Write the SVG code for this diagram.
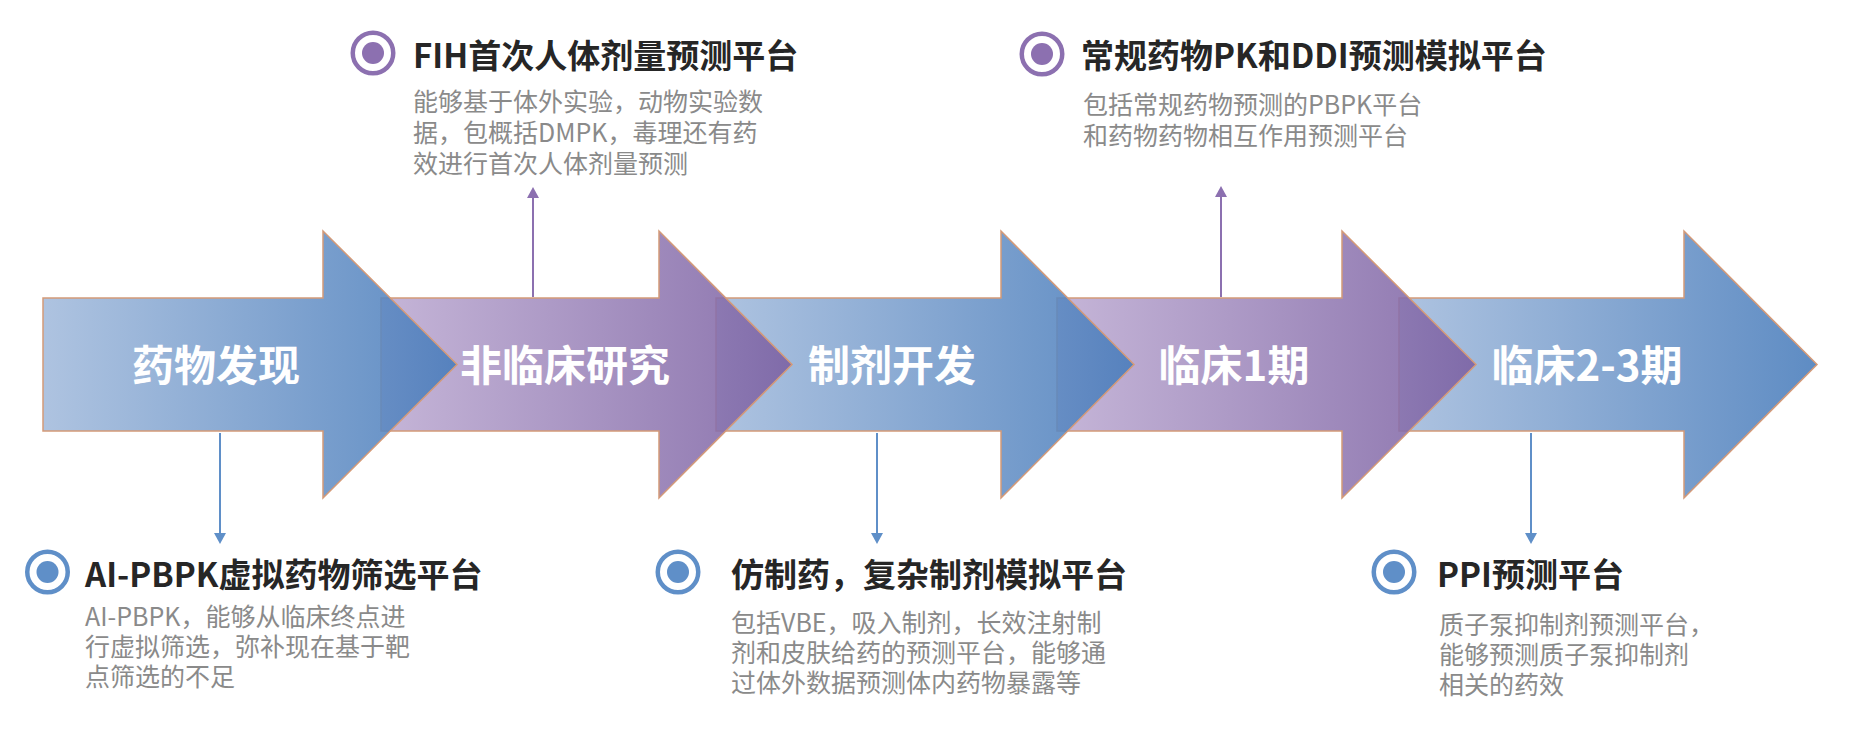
<svg xmlns="http://www.w3.org/2000/svg" width="1854" height="731" viewBox="0 0 1854 731">
<style>
.arrow{stroke:#D49A78;stroke-width:1.5;fill-opacity:0.88}
.stage{font-family:"Noto Sans CJK SC","Microsoft YaHei",sans-serif;font-size:42px;font-weight:bold;fill:#FFFFFF;text-anchor:middle}
.title{font-family:"Noto Sans CJK SC","Microsoft YaHei",sans-serif;font-size:33px;font-weight:bold;fill:#262626}
.desc{font-family:"Noto Sans CJK SC","Microsoft YaHei",sans-serif;font-size:25px;fill:#8A8A8A}
.ringP{fill:none;stroke:#8C70B0;stroke-width:4.5}
.dotP{fill:#8C70B0}
.ringB{fill:none;stroke:#5F8FC8;stroke-width:4.5}
.dotB{fill:#5F8FC8}
.connB{stroke:#5F8FC8;stroke-width:2;fill:none}
.connP{stroke:#8C70B0;stroke-width:2;fill:none}
</style>
<defs>
<linearGradient id="gBlue" x1="0" y1="0" x2="1" y2="0">
<stop offset="0" stop-color="#A3BBDC"/>
<stop offset="1" stop-color="#487CBB"/>
</linearGradient>
<linearGradient id="gPurple" x1="0" y1="0" x2="1" y2="0">
<stop offset="0" stop-color="#BDABD2"/>
<stop offset="1" stop-color="#7B60A2"/>
</linearGradient>
<marker id="mB" markerUnits="userSpaceOnUse" markerWidth="12" markerHeight="12" refX="0" refY="6" orient="auto" overflow="visible">
<path d="M0,0 L11,6 L0,12 Z" fill="#5F8FC8"/>
</marker>
<marker id="mP" markerUnits="userSpaceOnUse" markerWidth="12" markerHeight="12" refX="0" refY="6" orient="auto" overflow="visible">
<path d="M0,0 L11,6 L0,12 Z" fill="#8C70B0"/>
</marker>
</defs>
<rect width="1854" height="731" fill="#FFFFFF"/>

<g id="stage5">
<path class="arrow" fill="url(#gBlue)" d="M1399,298 H1684 V231 L1817,364.5 L1684,498 V431 H1399 Z"/>
<text class="stage" x="1587" y="380.5">临床2-3期</text>
</g>
<g id="stage4">
<path class="arrow" fill="url(#gPurple)" d="M1057,298 H1342 V231 L1476,364.5 L1342,498 V431 H1057 Z"/>
<text class="stage" x="1234" y="380.5">临床1期</text>
</g>
<g id="stage3">
<path class="arrow" fill="url(#gBlue)" d="M716,298 H1001 V231 L1134,364.5 L1001,498 V431 H716 Z"/>
<text class="stage" x="892" y="380.5">制剂开发</text>
</g>
<g id="stage2">
<path class="arrow" fill="url(#gPurple)" d="M381,298 H659 V231 L792,364.5 L659,498 V431 H381 Z"/>
<text class="stage" x="565" y="380.5">非临床研究</text>
</g>
<g id="stage1">
<path class="arrow" fill="url(#gBlue)" d="M43,298 H323 V231 L457,364.5 L323,498 V431 H43 Z"/>
<text class="stage" x="216" y="380.5">药物发现</text>
</g>

<g id="connectors">
<line class="connB" x1="220" y1="433" x2="220" y2="533" marker-end="url(#mB)"/>
<line class="connB" x1="877" y1="433" x2="877" y2="533" marker-end="url(#mB)"/>
<line class="connB" x1="1531" y1="433" x2="1531" y2="533" marker-end="url(#mB)"/>
<line class="connP" x1="533" y1="297" x2="533" y2="198" marker-end="url(#mP)"/>
<line class="connP" x1="1221" y1="297" x2="1221" y2="197" marker-end="url(#mP)"/>
</g>

<g id="fih">
<circle class="ringP" cx="373" cy="53" r="20.25"/>
<circle class="dotP" cx="373" cy="53" r="11"/>
<text class="title" x="413" y="67.5">FIH首次人体剂量预测平台</text>
<text class="desc" x="413" y="110.5">能够基于体外实验，动物实验数</text>
<text class="desc" x="413" y="141.5">据，包概括DMPK，毒理还有药</text>
<text class="desc" x="413" y="172.5">效进行首次人体剂量预测</text>
</g>
<g id="pkddi">
<circle class="ringP" cx="1042" cy="54" r="20.25"/>
<circle class="dotP" cx="1042" cy="54" r="11"/>
<text class="title" x="1081" y="67.5">常规药物PK和DDI预测模拟平台</text>
<text class="desc" x="1083" y="113.5">包括常规药物预测的PBPK平台</text>
<text class="desc" x="1083" y="144.5">和药物药物相互作用预测平台</text>
</g>
<g id="aipbpk">
<circle class="ringB" cx="47.5" cy="572" r="20.25"/>
<circle class="dotB" cx="47.5" cy="572" r="11"/>
<text class="title" x="85" y="586.5">AI-PBPK虚拟药物筛选平台</text>
<text class="desc" x="85" y="625.5">AI-PBPK，能够从临床终点进</text>
<text class="desc" x="85" y="655.5">行虚拟筛选，弥补现在基于靶</text>
<text class="desc" x="85" y="685.5">点筛选的不足</text>
</g>
<g id="generic">
<circle class="ringB" cx="678" cy="572" r="20.25"/>
<circle class="dotB" cx="678" cy="572" r="11"/>
<text class="title" x="731" y="586.5">仿制药，复杂制剂模拟平台</text>
<text class="desc" x="731" y="631.5">包括VBE，吸入制剂，长效注射制</text>
<text class="desc" x="731" y="661.5">剂和皮肤给药的预测平台，能够通</text>
<text class="desc" x="731" y="691.5">过体外数据预测体内药物暴露等</text>
</g>
<g id="ppi">
<circle class="ringB" cx="1394" cy="572" r="20.25"/>
<circle class="dotB" cx="1394" cy="572" r="11"/>
<text class="title" x="1437" y="586.5">PPI预测平台</text>
<text class="desc" x="1439" y="633.5">质子泵抑制剂预测平台，</text>
<text class="desc" x="1439" y="663.5">能够预测质子泵抑制剂</text>
<text class="desc" x="1439" y="693.5">相关的药效</text>
</g>
</svg>
